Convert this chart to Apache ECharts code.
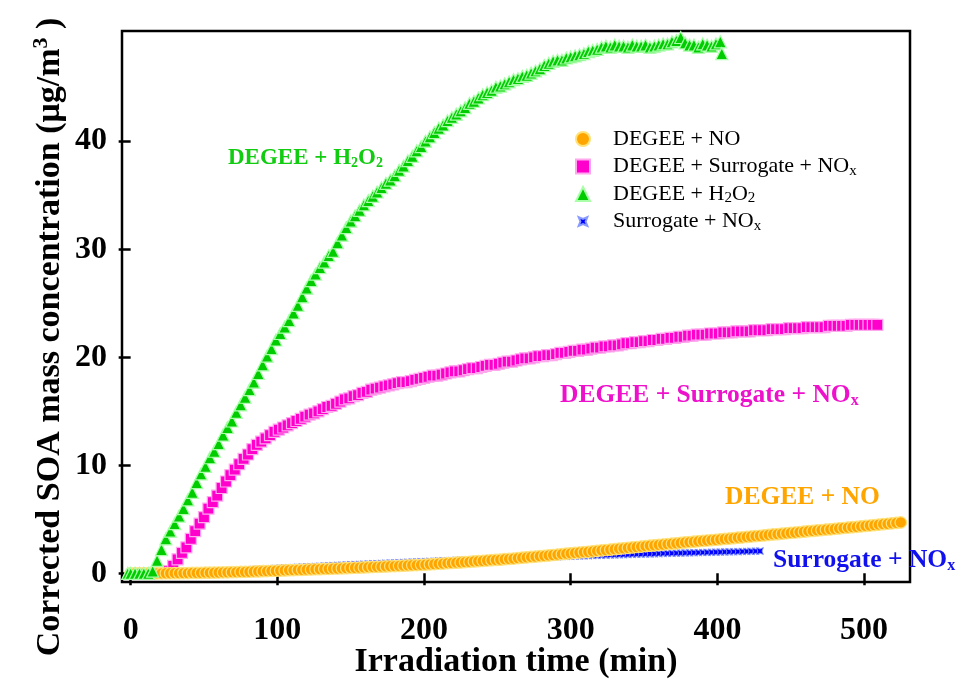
<!DOCTYPE html>
<html><head><meta charset="utf-8">
<script src="https://cdn.jsdelivr.net/npm/echarts@6/dist/echarts.min.js"></script>
<style>html,body{margin:0;padding:0;background:#fff}#c{width:961px;height:681px}</style>
</head><body><div id="c"></div>
<script>
// ---------------- DATA ----------------
const seriesNames = ['DEGEE + NO', 'DEGEE + Surrogate + NOx', 'DEGEE + H2O2', 'Surrogate + NOx'];
const xTicks = [0, 100, 200, 300, 400, 500];
const yTicks = [0, 10, 20, 30, 40];

// DEGEE + NO (orange circles): [time (min), SOA (ug/m3)]
const degeeNo = [[0,0],[3,0],[6,0],[9,0],[12,0],[15,0],[18,0],[21,0],[24,0.01],[27,0.01],[30,0.02],[33,0.02],[36,0.03],[39,0.03],[42,0.04],[45,0.04],[48,0.05],[51,0.06],[54,0.06],[57,0.07],[60,0.08],[63,0.09],[66,0.1],[69,0.11],[72,0.12],[75,0.13],[78,0.14],[81,0.15],[84,0.17],[87,0.18],[90,0.2],[93,0.21],[96,0.23],[99,0.24],[102,0.26],[105,0.27],[108,0.29],[111,0.3],[114,0.32],[117,0.33],[120,0.35],[123,0.36],[126,0.38],[129,0.39],[132,0.41],[135,0.42],[138,0.44],[141,0.45],[144,0.47],[147,0.48],[150,0.5],[153,0.52],[156,0.53],[159,0.55],[162,0.57],[165,0.59],[168,0.6],[171,0.62],[174,0.64],[177,0.66],[180,0.67],[183,0.69],[186,0.71],[189,0.73],[192,0.75],[195,0.77],[198,0.79],[201,0.81],[204,0.84],[207,0.86],[210,0.89],[213,0.91],[216,0.94],[219,0.96],[222,0.99],[225,1.01],[228,1.04],[231,1.07],[234,1.1],[237,1.13],[240,1.16],[243,1.19],[246,1.22],[249,1.24],[252,1.27],[255,1.31],[258,1.34],[261,1.37],[264,1.41],[267,1.45],[270,1.48],[273,1.52],[276,1.55],[279,1.59],[282,1.62],[285,1.66],[288,1.7],[291,1.74],[294,1.78],[297,1.82],[300,1.85],[303,1.89],[306,1.93],[309,1.97],[312,2.0],[315,2.04],[318,2.08],[321,2.12],[324,2.16],[327,2.2],[330,2.24],[333,2.28],[336,2.32],[339,2.36],[342,2.4],[345,2.44],[348,2.48],[351,2.52],[354,2.56],[357,2.59],[360,2.63],[363,2.67],[366,2.71],[369,2.75],[372,2.78],[375,2.82],[378,2.86],[381,2.9],[384,2.93],[387,2.97],[390,3.01],[393,3.04],[396,3.08],[399,3.11],[402,3.15],[405,3.19],[408,3.22],[411,3.26],[414,3.3],[417,3.33],[420,3.37],[423,3.41],[426,3.45],[429,3.48],[432,3.52],[435,3.56],[438,3.6],[441,3.63],[444,3.67],[447,3.71],[450,3.75],[453,3.78],[456,3.82],[459,3.86],[462,3.9],[465,3.93],[468,3.97],[471,4.01],[474,4.05],[477,4.08],[480,4.12],[483,4.16],[486,4.2],[489,4.24],[492,4.27],[495,4.31],[498,4.35],[501,4.39],[504,4.43],[507,4.47],[510,4.51],[513,4.55],[516,4.59],[519,4.63],[522,4.67],[525,4.71]];

// DEGEE + Surrogate + NOx (magenta squares)
const degeeSurNox = [[26,0.2],[29,0.7],[32,1.3],[35,1.9],[38,2.4],[41,3.2],[44,3.9],[47,4.6],[50,5.2],[53,6.0],[56,6.6],[59,7.2],[62,7.9],[65,8.5],[68,9.1],[71,9.6],[74,10.1],[77,10.6],[80,11.0],[83,11.5],[86,11.9],[89,12.2],[92,12.5],[95,12.8],[98,13.1],[101,13.3],[104,13.5],[107,13.7],[110,13.9],[113,14.1],[116,14.3],[119,14.5],[122,14.7],[125,14.8],[128,15.0],[131,15.2],[134,15.4],[137,15.5],[140,15.7],[143,15.9],[146,16.1],[149,16.2],[152,16.4],[155,16.5],[158,16.7],[161,16.8],[164,17.0],[167,17.1],[170,17.2],[173,17.3],[176,17.4],[179,17.5],[182,17.6],[185,17.7],[188,17.7],[191,17.8],[194,17.9],[197,18.0],[200,18.1],[203,18.2],[206,18.3],[209,18.3],[212,18.4],[215,18.5],[218,18.6],[221,18.7],[224,18.7],[227,18.8],[230,18.9],[233,19.0],[236,19.0],[239,19.1],[242,19.2],[245,19.3],[248,19.3],[251,19.4],[254,19.5],[257,19.6],[260,19.6],[263,19.7],[266,19.8],[269,19.9],[272,19.9],[275,20.0],[278,20.1],[281,20.1],[284,20.2],[287,20.2],[290,20.3],[293,20.4],[296,20.4],[299,20.5],[302,20.6],[305,20.6],[308,20.7],[311,20.7],[314,20.8],[317,20.9],[320,20.9],[323,21.0],[326,21.0],[329,21.1],[332,21.1],[335,21.2],[338,21.3],[341,21.3],[344,21.4],[347,21.4],[350,21.5],[353,21.5],[356,21.6],[359,21.6],[362,21.7],[365,21.7],[368,21.8],[371,21.8],[374,21.9],[377,21.9],[380,22.0],[383,22.0],[386,22.1],[389,22.1],[392,22.1],[395,22.2],[398,22.2],[401,22.2],[404,22.3],[407,22.3],[410,22.3],[413,22.4],[416,22.4],[419,22.4],[422,22.4],[425,22.5],[428,22.5],[431,22.5],[434,22.5],[437,22.6],[440,22.6],[443,22.6],[446,22.6],[449,22.7],[452,22.7],[455,22.7],[458,22.7],[461,22.8],[464,22.8],[467,22.8],[470,22.8],[473,22.8],[476,22.9],[479,22.9],[482,22.9],[485,22.9],[488,22.9],[491,23.0],[494,23.0],[497,23.0],[500,23.0],[503,23.0],[506,23.0],[509,23.0]];

// DEGEE + H2O2 (green triangles)
const degeeH2o2 = [[-2,0],[0,0],[3,0],[6,0],[9,0],[12,0],[15,0.2],[18,1.2],[21,2.2],[24,3.2],[27,3.9],[30,4.6],[33,5.3],[36,6.0],[39,6.8],[42,7.5],[45,8.4],[48,9.2],[51,9.9],[54,10.7],[57,11.3],[60,12.0],[63,12.8],[66,13.5],[69,14.1],[72,14.9],[75,15.6],[78,16.3],[81,17.0],[84,17.7],[87,18.5],[90,19.3],[93,20.1],[96,20.8],[99,21.6],[102,22.2],[105,22.8],[108,23.4],[111,24.1],[114,24.8],[117,25.6],[120,26.4],[123,27.1],[126,27.7],[129,28.3],[132,28.8],[135,29.4],[138,29.8],[141,30.6],[144,31.3],[147,32.0],[150,32.6],[153,33.1],[156,33.6],[159,34.1],[162,34.5],[165,34.9],[168,35.3],[171,35.7],[174,36.1],[177,36.4],[180,36.8],[183,37.3],[186,37.7],[189,38.2],[192,38.6],[195,39.1],[198,39.5],[201,40.0],[204,40.4],[207,40.8],[210,41.2],[213,41.5],[216,41.9],[219,42.2],[222,42.5],[225,42.8],[228,43.1],[231,43.5],[234,43.7],[237,44.0],[240,44.3],[243,44.5],[246,44.7],[249,45.0],[252,45.1],[255,45.3],[258,45.5],[261,45.7],[264,45.8],[267,46.0],[270,46.1],[273,46.3],[276,46.5],[279,46.7],[282,47.0],[285,47.2],[288,47.4],[291,47.5],[294,47.5],[297,47.7],[300,47.8],[303,47.9],[306,48.0],[309,48.1],[312,48.3],[315,48.4],[318,48.5],[321,48.7],[324,48.8],[327,48.7],[330,48.9],[333,48.8],[336,48.8],[339,48.7],[342,48.9],[345,48.8],[348,48.8],[351,48.9],[354,48.7],[357,48.8],[360,48.9],[363,49.0],[366,49.0],[369,49.2],[372,49.3],[375,49.6],[378,49.1],[381,48.9],[384,48.9],[387,48.7],[390,49.0],[393,48.9],[396,48.8],[399,49.0],[402,49.2],[403,48.1]];

// Surrogate + NOx (blue)
const surrogateNox = [[0,0],[3,0],[6,0],[9,0],[12,0],[15,0],[18,0],[21,0.01],[24,0.02],[27,0.03],[30,0.04],[33,0.05],[36,0.06],[39,0.08],[42,0.09],[45,0.1],[48,0.12],[51,0.14],[54,0.16],[57,0.18],[60,0.2],[63,0.22],[66,0.24],[69,0.26],[72,0.28],[75,0.3],[78,0.32],[81,0.34],[84,0.36],[87,0.38],[90,0.4],[93,0.42],[96,0.44],[99,0.46],[102,0.48],[105,0.5],[108,0.52],[111,0.54],[114,0.56],[117,0.58],[120,0.6],[123,0.62],[126,0.64],[129,0.66],[132,0.68],[135,0.7],[138,0.72],[141,0.74],[144,0.76],[147,0.78],[150,0.8],[153,0.82],[156,0.83],[159,0.85],[162,0.87],[165,0.89],[168,0.9],[171,0.92],[174,0.94],[177,0.96],[180,0.97],[183,0.99],[186,1.01],[189,1.03],[192,1.04],[195,1.06],[198,1.08],[201,1.09],[204,1.11],[207,1.12],[210,1.14],[213,1.16],[216,1.17],[219,1.19],[222,1.21],[225,1.22],[228,1.24],[231,1.25],[234,1.27],[237,1.28],[240,1.3],[243,1.31],[246,1.33],[249,1.34],[252,1.36],[255,1.37],[258,1.39],[261,1.4],[264,1.42],[267,1.43],[270,1.45],[273,1.46],[276,1.47],[279,1.49],[282,1.5],[285,1.52],[288,1.53],[291,1.54],[294,1.56],[297,1.57],[300,1.58],[303,1.6],[306,1.61],[309,1.62],[312,1.63],[315,1.65],[318,1.66],[321,1.67],[324,1.68],[327,1.7],[330,1.71],[333,1.72],[336,1.73],[339,1.74],[342,1.76],[345,1.77],[348,1.78],[351,1.79],[354,1.8],[357,1.81],[360,1.82],[363,1.84],[366,1.85],[369,1.86],[372,1.87],[375,1.88],[378,1.89],[381,1.9],[384,1.91],[387,1.92],[390,1.93],[393,1.94],[396,1.95],[399,1.96],[402,1.97],[405,1.98],[408,1.99],[411,2.0],[414,2.01],[417,2.02],[420,2.03],[423,2.04],[426,2.05],[429,2.06]];

// ---------------- CHART ----------------
const serif = '"Liberation Serif","Times New Roman",serif';
const C = { orange: '#FFA500', pink: '#FF00CC', green: '#00CC00', blue: '#0000FF' };
const bowtie = 'path://M0,0 L5,2 L10,0 L8,5 L10,10 L5,8 L0,10 L2,5 Z';
const bowtieLegend = 'path://M-3,-3 M13,13 M0,0 L5,2 L10,0 L8,5 L10,10 L5,8 L0,10 L2,5 Z';

const legendText = {
  'DEGEE + NO': 'DEGEE + NO',
  'DEGEE + Surrogate + NOx': 'DEGEE + Surrogate + NO{s|x}',
  'DEGEE + H2O2': 'DEGEE + H{s|2}O{s|2}',
  'Surrogate + NOx': 'Surrogate + NO{s|x}'
};

function ann(text, x, y, color, size) {
  return {
    type: 'text', x: x, y: y, z: 100,
    style: {
      text: text, fill: color, align: 'left', verticalAlign: 'middle',
      font: 'bold ' + size + 'px ' + serif,
      rich: {
        b: { fill: color, fontFamily: serif, fontWeight: 'bold', fontSize: size },
        s: { fill: color, fontFamily: serif, fontWeight: 'bold', fontSize: Math.round(size * 0.62), padding: [Math.round(size * 0.45), 0, 0, 0] }
      }
    }
  };
}

const chart = echarts.init(document.getElementById('c'));
chart.setOption({
  animation: false,
  backgroundColor: '#fff',
  grid: { left: 122, right: 51, top: 31, bottom: 99, show: true, borderColor: '#000', borderWidth: 2.5,
          containLabel: false, outerBoundsMode: 'none' },
  xAxis: {
    type: 'value', min: -5.9, max: 531.3,
    axisLine: { show: false }, splitLine: { show: false },
    axisTick: { show: true, inside: false, length: 12, lineStyle: { color: '#000', width: 2.5 }, customValues: xTicks },
    axisLabel: { customValues: xTicks, margin: 33, fontFamily: serif, fontWeight: 'bold', fontSize: 32, color: '#000' },
    name: 'Irradiation time (min)', nameLocation: 'middle', nameGap: 63, nameMoveOverlap: false,
    nameTextStyle: { fontFamily: serif, fontWeight: 'bold', fontSize: 34, color: '#000' }
  },
  yAxis: {
    type: 'value', min: -0.8, max: 50.2,
    axisLine: { show: false }, splitLine: { show: false },
    axisTick: { show: true, inside: false, length: 12, lineStyle: { color: '#000', width: 2.5 }, customValues: yTicks },
    axisLabel: { customValues: yTicks, margin: 15, fontFamily: serif, fontWeight: 'bold', fontSize: 32, color: '#000' }
  },
  legend: {
    orient: 'vertical', left: 570, top: 122, itemWidth: 14, itemHeight: 14, itemGap: 3.5,
    data: [
      { name: seriesNames[0] }, { name: seriesNames[1] }, { name: seriesNames[2] },
      { name: seriesNames[3], icon: bowtieLegend }
    ],
    formatter: n => legendText[n],
    textStyle: {
      fontFamily: serif, fontSize: 22, color: '#000', lineHeight: 24, padding: [0, 0, 0, 18],
      rich: { s: { fontFamily: serif, fontSize: 15, color: '#000', padding: [9, 0, 0, 0] } }
    }
  },
  graphic: [
    {
      type: 'text', x: 50, y: 337, rotation: Math.PI / 2, z: 100,
      style: {
        text: '{t|Corrected SOA mass concentration (μg/m}{p|3}{t| )}',
        align: 'center', verticalAlign: 'middle', fill: '#000',
        rich: {
          t: { fontFamily: serif, fontWeight: 'bold', fontSize: 34, fill: '#000' },
          p: { fontFamily: serif, fontWeight: 'bold', fontSize: 22, fill: '#000', padding: [0, 0, 18, 0] }
        }
      }
    },
    ann('{b|DEGEE + H}{s|2}{b|O}{s|2}', 228, 158, '#11CC11', 23),
    ann('{b|DEGEE + Surrogate + NO}{s|x}', 560, 395, '#EE11CC', 25.5),
    ann('{b|DEGEE + NO}', 725, 497, '#FFA500', 25.5),
    ann('{b|Surrogate + NO}{s|x}', 773, 560, '#1111EE', 25.5)
  ],
  series: [
    {
      name: seriesNames[3], type: 'scatter', data: surrogateNox, z: 2,
      symbol: bowtie, symbolSize: 7,
      itemStyle: { color: C.blue, borderColor: '#8899FF', borderWidth: 0.8, opacity: 1 }
    },
    {
      name: seriesNames[1], type: 'scatter', data: degeeSurNox, z: 3,
      symbol: 'rect', symbolSize: 11,
      itemStyle: { color: C.pink, borderColor: '#FFA8EE', borderWidth: 1.2, opacity: 1 }
    },
    {
      name: seriesNames[0], type: 'scatter', data: degeeNo, z: 4,
      symbol: 'circle', symbolSize: 11.5,
      itemStyle: { color: C.orange, borderColor: '#FFE27A', borderWidth: 1.2, opacity: 1 }
    },
    {
      name: seriesNames[2], type: 'scatter', data: degeeH2o2, z: 5,
      symbol: 'triangle', symbolSize: 12,
      itemStyle: { color: C.green, borderColor: '#A8FFA8', borderWidth: 1.2, opacity: 1 }
    }
  ]
});
</script></body></html>
